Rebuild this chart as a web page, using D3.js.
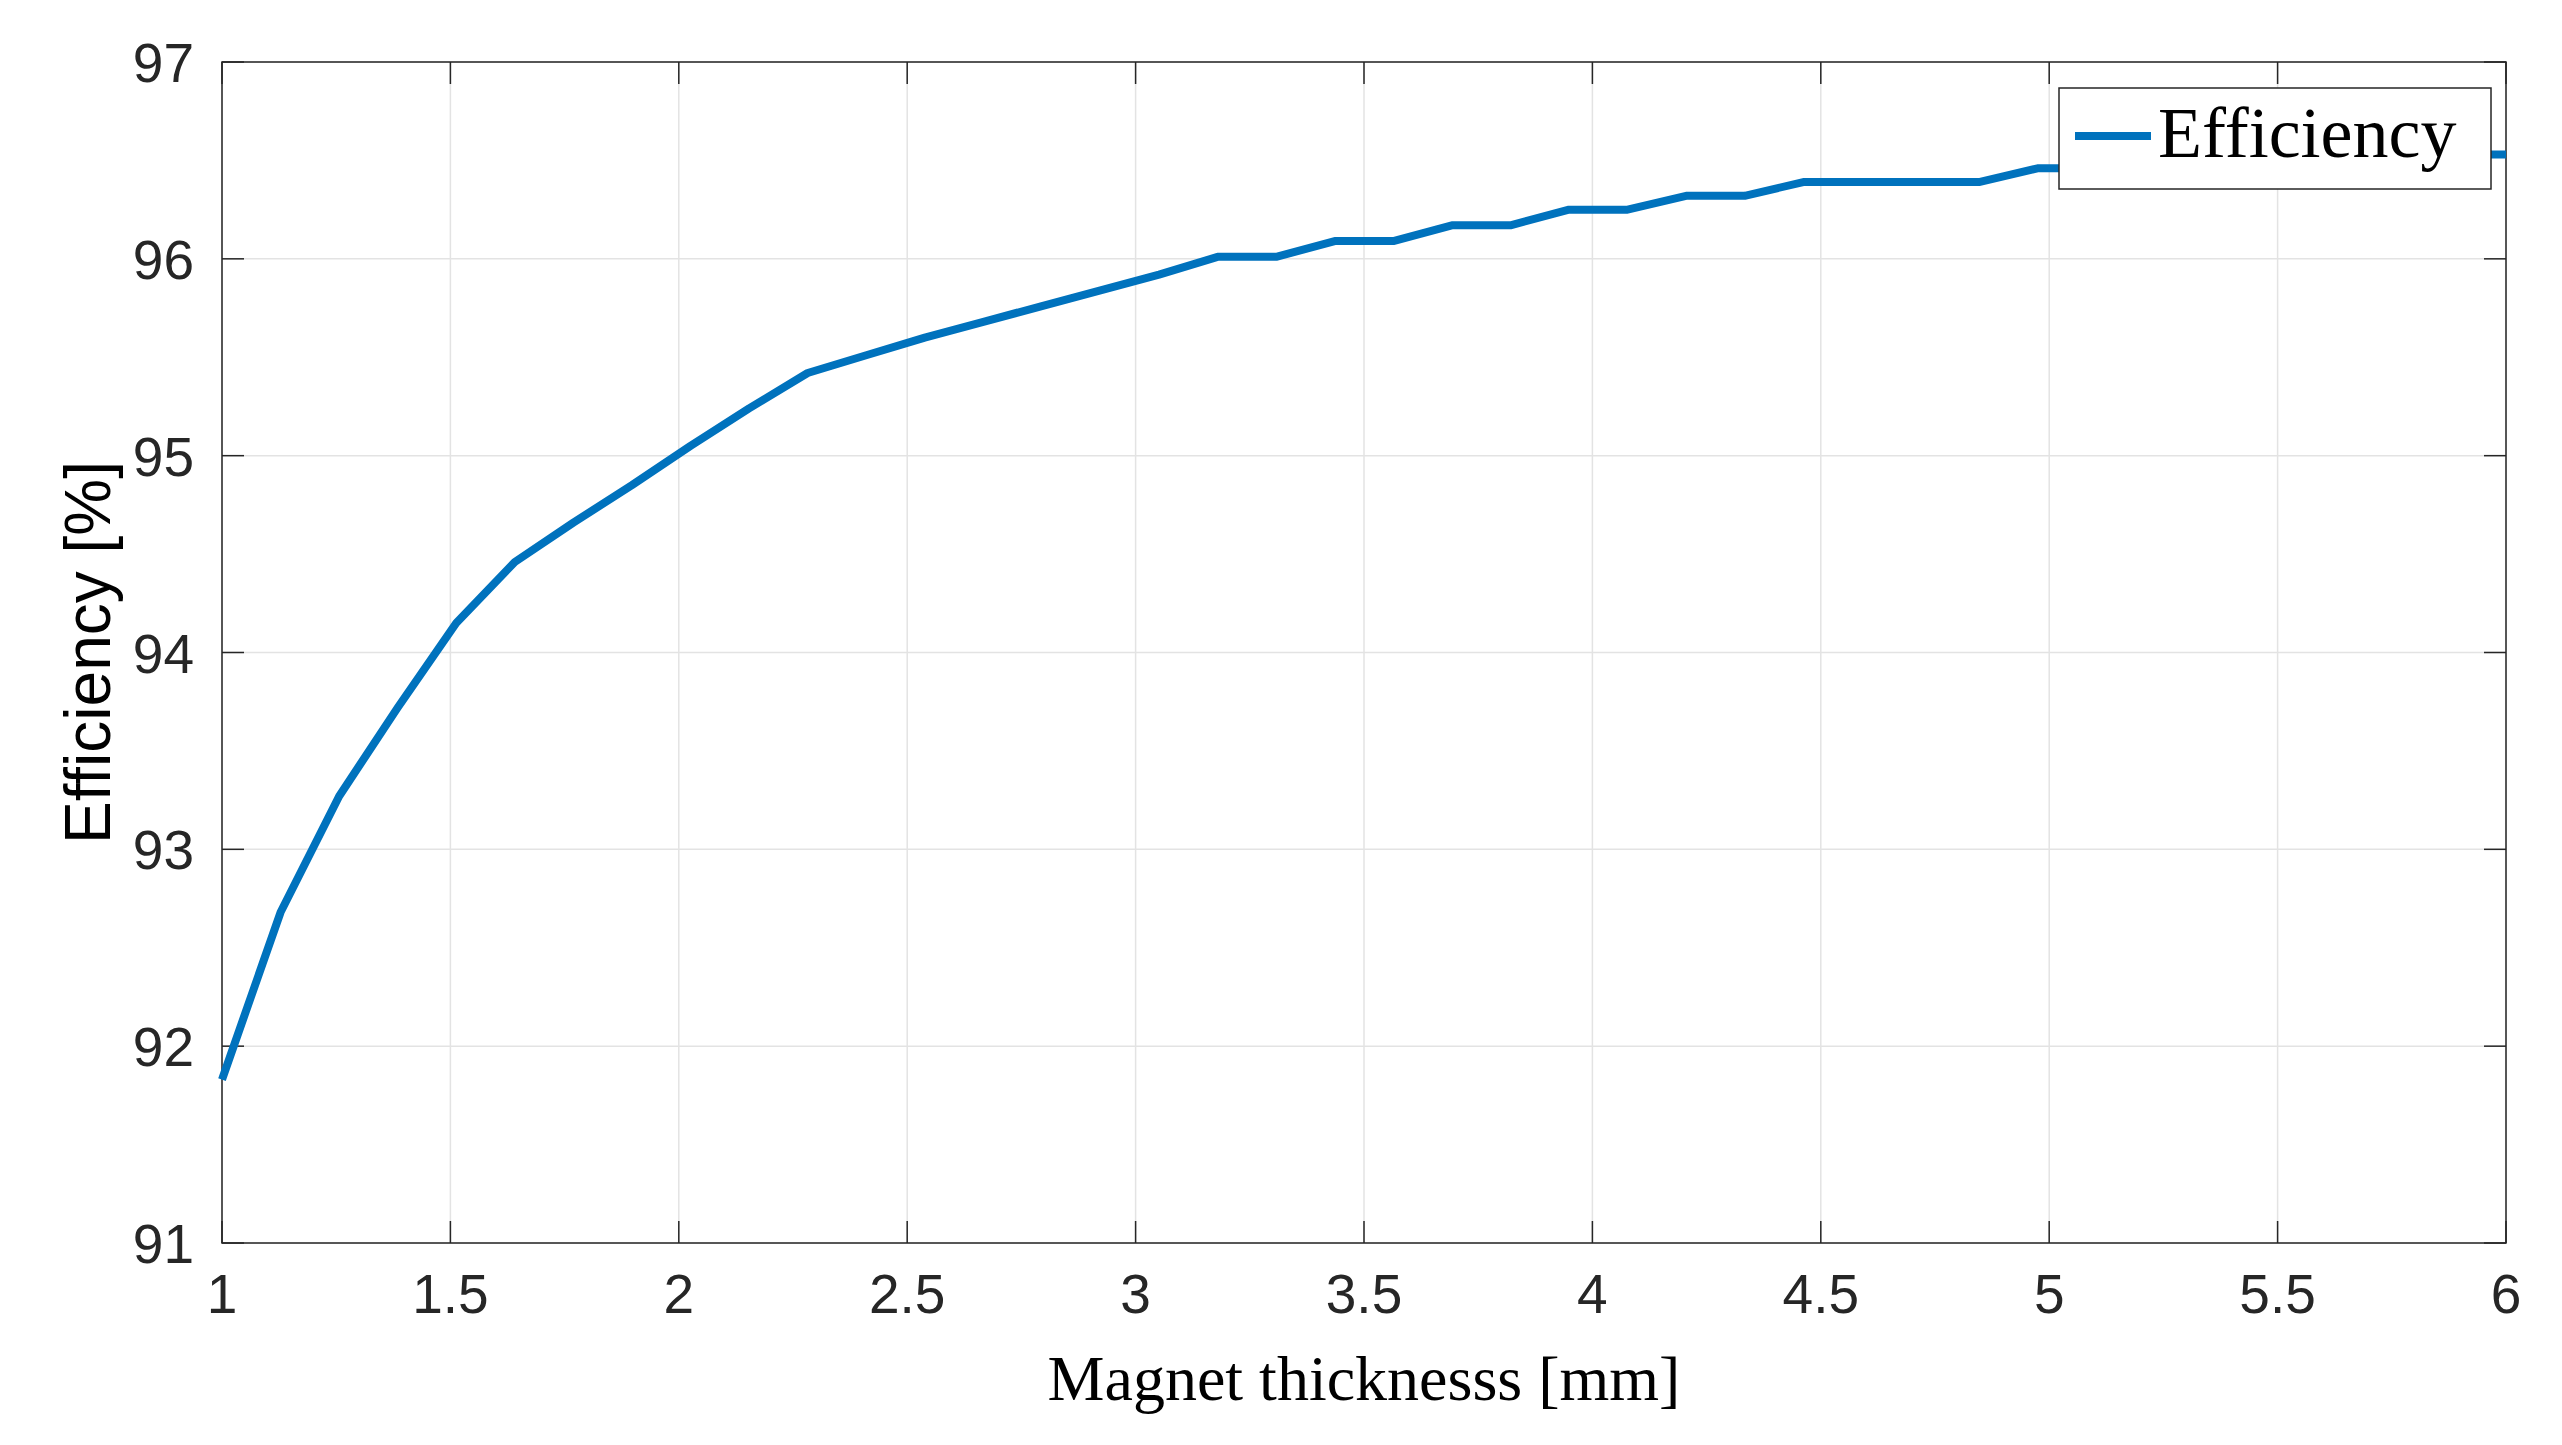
<!DOCTYPE html>
<html><head><meta charset="utf-8">
<script src="https://cdn.jsdelivr.net/npm/d3@7"></script>
<style>body{margin:0;background:#fff}</style></head>
<body><svg id="c" width="2562" height="1445"></svg>
<script>
const thickness = d3.range(40).map(k => 1 + k * 5 / 39);
const efficiency = [91.83,92.68,93.27,93.72,94.15,94.46,94.66,94.85,95.05,95.24,
  95.42,95.51,95.60,95.68,95.76,95.84,95.92,96.01,96.01,96.09,
  96.09,96.17,96.17,96.25,96.25,96.32,96.32,96.39,96.39,96.39,
  96.39,96.46,96.46,96.46,96.46,96.53,96.53,96.53,96.53,96.53];
const xTicks = [1,1.5,2,2.5,3,3.5,4,4.5,5,5.5,6];
const yTicks = [91,92,93,94,95,96,97];

const L=222,R=2506,T=62,B=1243;
const svg=d3.select('#c');
const x=d3.scaleLinear().domain([1,6]).range([L,R]);
const y=d3.scaleLinear().domain([91,97]).range([B,T]);
const grid='#e3e3e3', ax='#262626';
svg.append('g').selectAll('line').data(xTicks).join('line')
 .attr('x1',d=>x(d)).attr('x2',d=>x(d)).attr('y1',T).attr('y2',B).attr('stroke',grid).attr('stroke-width',1.5);
svg.append('g').selectAll('line').data(yTicks).join('line')
 .attr('y1',d=>y(d)).attr('y2',d=>y(d)).attr('x1',L).attr('x2',R).attr('stroke',grid).attr('stroke-width',1.5);
const tickLen=22;
svg.append('g').selectAll('line').data(xTicks).join('line')
 .attr('x1',d=>x(d)).attr('x2',d=>x(d)).attr('y1',B).attr('y2',B-tickLen).attr('stroke',ax).attr('stroke-width',1.5);
svg.append('g').selectAll('line').data(xTicks).join('line')
 .attr('x1',d=>x(d)).attr('x2',d=>x(d)).attr('y1',T).attr('y2',T+tickLen).attr('stroke',ax).attr('stroke-width',1.5);
svg.append('g').selectAll('line').data(yTicks).join('line')
 .attr('y1',d=>y(d)).attr('y2',d=>y(d)).attr('x1',L).attr('x2',L+tickLen).attr('stroke',ax).attr('stroke-width',1.5);
svg.append('g').selectAll('line').data(yTicks).join('line')
 .attr('y1',d=>y(d)).attr('y2',d=>y(d)).attr('x1',R).attr('x2',R-tickLen).attr('stroke',ax).attr('stroke-width',1.5);
svg.append('rect').attr('x',L).attr('y',T).attr('width',R-L).attr('height',B-T).attr('fill','none').attr('stroke',ax).attr('stroke-width',1.5);

svg.append('path').datum(thickness.map((t,i)=>[t,efficiency[i]]))
 .attr('d',d3.line().x(d=>x(d[0])).y(d=>y(d[1])))
 .attr('fill','none').attr('stroke','#0072bd').attr('stroke-width',8).attr('stroke-linejoin','round');

svg.append('g').selectAll('text').data(xTicks).join('text')
 .attr('x',d=>x(d)).attr('y',B+70).attr('text-anchor','middle')
 .attr('font-family','Liberation Sans, Arial').attr('font-size',55).attr('fill',ax).text(d=>d);
svg.append('g').selectAll('text').data(yTicks).join('text')
 .attr('x',L-28).attr('y',d=>y(d)+20).attr('text-anchor','end')
 .attr('font-family','Liberation Sans, Arial').attr('font-size',55).attr('fill',ax).text(d=>d);

svg.append('text').attr('x',(L+R)/2).attr('y',1400).attr('text-anchor','middle')
 .attr('font-family','Liberation Serif, DejaVu Serif').attr('font-size',64).text('Magnet thicknesss [mm]');
svg.append('text').attr('transform','translate(110,'+((T+B)/2)+') rotate(-90)').attr('text-anchor','middle')
 .attr('font-family','Liberation Sans, Arial').attr('font-size',64).text('Efficiency [%]');

const lg=svg.append('g');
lg.append('rect').attr('x',2059).attr('y',88).attr('width',432).attr('height',101).attr('fill','#fff').attr('stroke',ax).attr('stroke-width',1.5);
lg.append('line').attr('x1',2075).attr('x2',2151).attr('y1',136).attr('y2',136).attr('stroke','#0072bd').attr('stroke-width',8);
lg.append('text').attr('x',2158).attr('y',157).attr('font-family','Liberation Serif, DejaVu Serif').attr('font-size',72).text('Efficiency');
</script></body></html>
